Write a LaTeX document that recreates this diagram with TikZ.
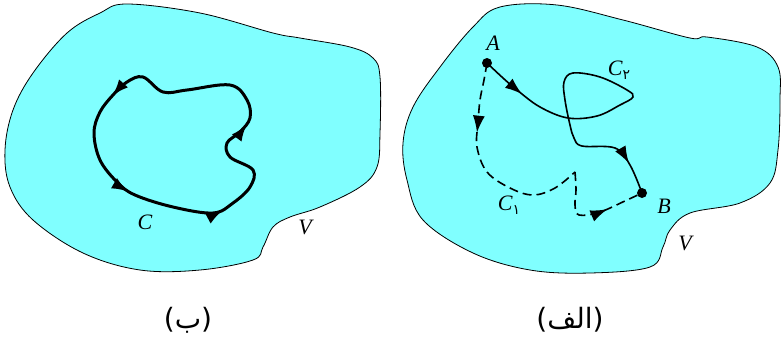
\documentclass[tikz,border=0pt]{standalone}
\usepackage{fontspec}
\setmainfont{Liberation Serif}
\newfontfamily\arabicfont[Script=Arabic]{DejaVu Sans}
\newfontfamily\parenfont{DejaVu Sans}
\TeXXeTstate=1
\usetikzlibrary{arrows.meta,decorations.markings}
\definecolor{regioncyan}{RGB}{128,255,255}

\begin{document}
\begin{tikzpicture}[
      x=1pt,y=-1pt,
      flowtip/.tip={Latex[length=17pt,width=12pt]},
      region/.style={draw=black,line width=0.8pt,fill=regioncyan},
      loop/.style={line width=3pt,line join=round},
      pathsolid/.style={line width=1.6pt},
      pathdash/.style={line width=1.6pt,dash pattern=on 9pt off 5pt},
      dot/.style={circle,fill=black,inner sep=0pt,minimum size=10pt},
      lbl/.style={font=\fontsize{22}{26}\selectfont\itshape,inner sep=1pt},
      capt/.style={font=\fontsize{28}{32}\selectfont}
    ]
      \useasboundingbox (0,0) rectangle (781,338);
      % (b)
      \draw[region] plot[smooth cycle,tension=0.6] coordinates {(127,4) (200,13) (273,33) (300,38) (350,47) (373,58) (380,77) (380,133) (377,167) (360,187) (320,207) (290,217) (273,227) (263,247) (253,260) (200,270) (140,270) (83,253) (33,220) (10,187) (5,150) (13,110) (33,73) (67,33) (100,13)};
      \draw[loop,postaction={decorate},decoration={markings,
          mark=at position 0.04 with {\arrow{flowtip}},
          mark=at position 0.26 with {\arrow{flowtip}},
          mark=at position 0.45 with {\arrow{flowtip}},
          mark=at position 0.69 with {\arrow{flowtip}}}]
        plot[smooth cycle,tension=0.6] coordinates {(143,77) (127,82) (113,95) (100,112) (94,133) (100,160) (117,182) (135,195) (173,207) (213,213) (233,203) (250,187) (253,170) (230,157) (227,143) (240,132) (250,118) (247,100) (230,85) (187,90) (163,92)};
      \node[lbl] (labC) at (145,222) {C};
      \node[lbl] (labVb) at (305,227) {V};
      \node[capt] (capB) at (188,320) {{\parenfont(}\beginR{\arabicfont ب}\endR{\parenfont)}};
      % (alef)
      \draw[region] plot[smooth cycle,tension=0.6] coordinates {(500,7) (557,5) (623,20) (690,38) (707,37) (757,47) (778,67) (780,100) (778,150) (770,183) (740,203) (690,213) (670,230) (663,247) (650,267) (590,273) (530,270) (473,253) (423,220) (407,180) (403,143) (413,107) (440,67) (473,27)};
      \node[dot] (A) at (487,63) {};
      \node[dot] (B) at (642,193) {};
      \coordinate (cusp) at (575,172);
      \draw[pathsolid,postaction={decorate},decoration={markings,
          mark=at position 0.115 with {\arrow{flowtip}},
          mark=at position 0.92 with {\arrow{flowtip}}}]
        plot[smooth,tension=0.6] coordinates {(A) (503,78) (517,90) (540,107) (568,118) (597,116) (620,105) (633,97) (627,90) (600,77) (573,73) (564,82) (565,100) (570,125) (574,138) (582,146) (615,148) (630,165) (B)};
      \draw[pathdash,postaction={decorate},decoration={markings,
          mark=at position 0.33 with {\arrow{flowtip}}}]
        plot[smooth,tension=0.6] coordinates {(A) (484,80) (480,100) (478,123) (477,147) (487,172) (510,188) (533,195) (555,188) (cusp)};
      \draw[pathdash,postaction={decorate},decoration={markings,
          mark=at position 0.66 with {\arrow{flowtip}}}]
        plot[smooth,tension=0.6] coordinates {(cusp) (576,190) (575,205) (579,215) (600,212) (627,200) (B)};
      \node[lbl] (labA) at (493,43) {A};
      \node[lbl] (labB) at (664,206) {B};
      \node[lbl] (labCtwo) at (619,70) {C\raisebox{-0.35ex}{\upshape\arabicfont\fontsize{14}{14}\selectfont ٢}};
      \node[lbl] (labCone) at (509,205) {C\raisebox{-0.35ex}{\upshape\arabicfont\fontsize{14}{14}\selectfont ١}};
      \node[lbl] (labVa) at (685,243) {V};
      \node[capt] (capA) at (570,320) {{\parenfont(}\beginR{\arabicfont الف}\endR{\parenfont)}};
    \end{tikzpicture}
\end{document}
